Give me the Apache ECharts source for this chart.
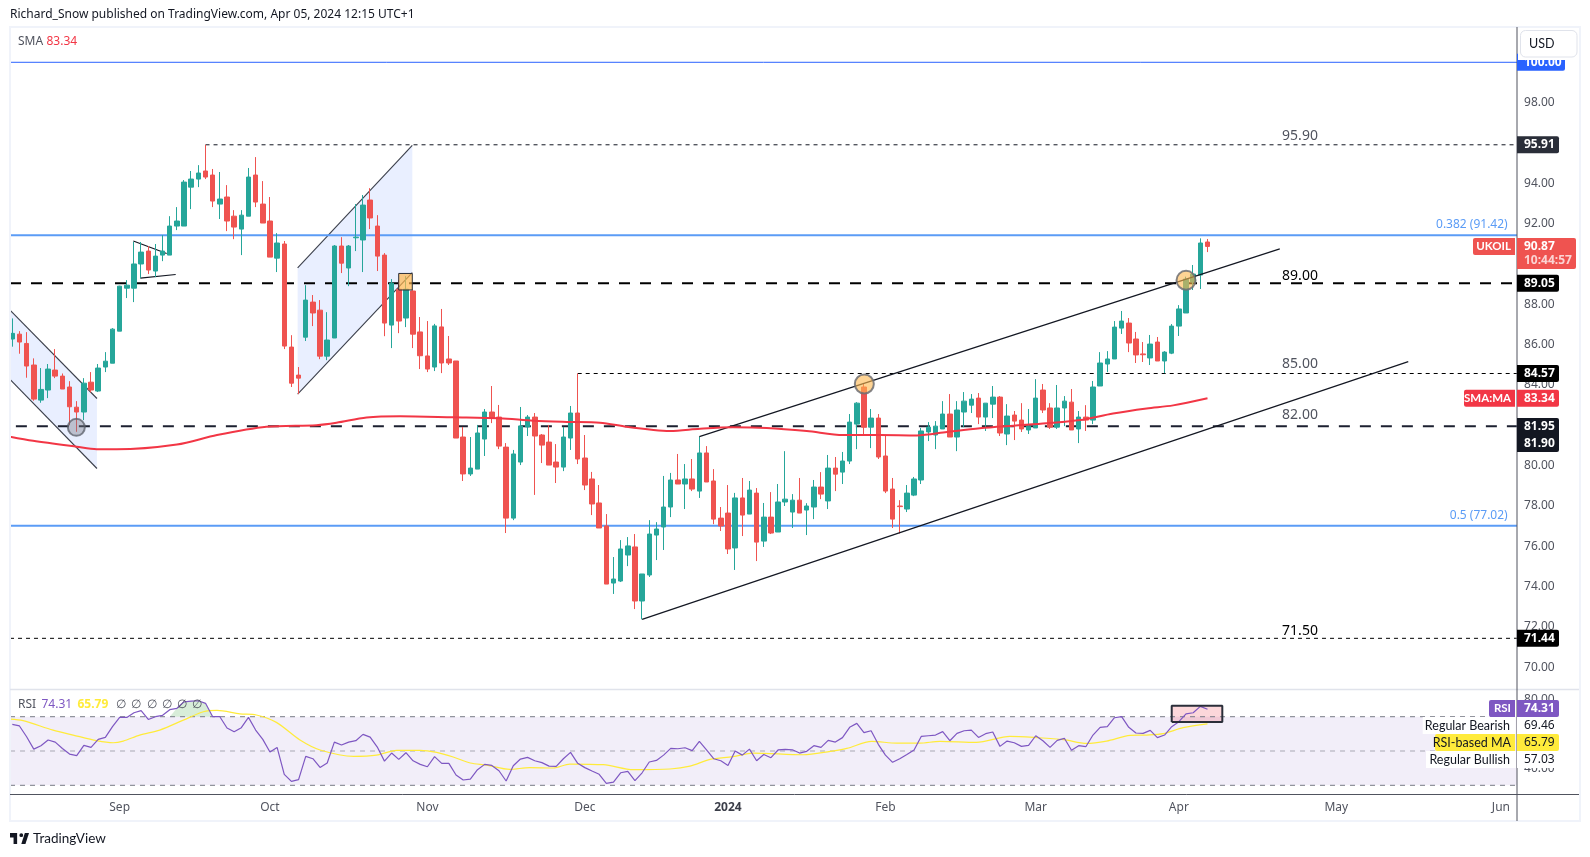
<!DOCTYPE html>
<html><head><meta charset="utf-8">
<style>html,body{margin:0;padding:0;background:#fff}#c{width:1590px;height:857px}</style>
<script src="https://cdn.jsdelivr.net/npm/echarts@6/dist/echarts.min.js"></script>
</head><body><div id="c"></div>
<script>
const opens=[86.28,86.52,86.06,84.99,83.25,83.75,84.74,84.44,83.90,82.90,
82.66,84.14,83.70,84.89,85.08,86.67,88.80,88.80,90.00,90.64,
89.65,90.44,90.44,91.88,91.88,93.81,94.21,94.61,94.41,92.97,
93.32,92.37,91.73,92.37,94.41,92.97,92.13,90.29,90.99,85.88,
84.49,86.37,88.11,87.71,85.43,86.33,90.89,89.80,91.30,91.19,
93.17,91.88,90.44,86.97,88.75,87.32,88.66,86.63,85.44,84.89,
86.88,85.29,85.19,81.42,79.59,79.83,81.32,82.66,82.41,80.92,
77.40,80.18,81.92,82.41,81.52,81.17,80.18,79.93,81.37,82.61,
80.38,79.34,78.15,77.01,74.18,74.28,75.57,75.97,73.29,74.58,
76.56,76.96,77.95,79.29,79.09,79.34,78.74,80.63,79.24,77.40,
77.65,75.92,78.40,77.60,78.64,76.26,77.45,76.71,78.20,77.70,
78.29,77.80,77.95,78.94,78.25,79.88,79.68,80.23,82.06,83.90,
81.91,82.36,80.48,78.84,78.00,77.85,78.54,79.29,81.67,81.52,
81.82,82.56,81.42,82.66,83.00,83.35,82.41,83.05,83.40,81.57,
82.51,82.26,81.77,81.87,83.75,82.86,81.91,82.86,83.15,81.82,
82.41,82.26,83.95,85.04,85.29,86.82,87.07,86.28,85.54,85.34,
86.13,85.19,85.58,86.92,87.57,89.11,89.45,91.09];
const closes=[86.56,86.13,84.94,83.30,83.78,84.79,84.44,83.80,82.92,82.66,
84.09,83.75,84.84,85.18,86.77,88.90,88.95,90.00,90.59,89.70,
90.39,90.64,91.88,92.13,94.06,94.21,94.51,94.31,93.12,93.22,
92.13,91.83,92.42,94.31,93.07,92.03,90.34,91.04,85.93,84.09,
84.34,88.21,87.57,85.43,86.23,90.89,90.04,90.89,91.33,92.92,
92.28,90.39,87.07,89.05,87.17,88.75,86.52,85.45,84.79,86.93,
85.09,85.09,81.37,79.59,79.88,81.62,82.66,82.36,80.97,77.40,
80.58,81.97,82.41,81.47,81.02,80.03,79.93,81.42,82.61,80.33,
79.04,78.10,76.91,74.13,74.38,75.87,76.02,73.29,74.63,76.61,
76.86,77.95,79.29,79.09,79.34,78.84,80.63,79.19,77.35,77.01,
75.87,78.40,77.55,78.79,76.21,77.45,76.66,78.20,78.34,78.29,
77.65,78.00,78.94,78.59,79.88,79.58,80.23,82.16,83.10,81.91,
82.36,80.43,78.74,77.35,77.97,78.64,79.34,81.72,81.91,81.96,
82.56,81.42,82.76,83.20,83.30,82.41,83.10,83.40,81.62,82.46,
82.21,81.82,81.96,83.35,82.76,81.91,82.86,83.20,81.77,82.41,
82.26,83.90,85.09,85.29,86.87,87.17,86.08,85.49,85.50,86.03,
85.19,85.63,86.92,87.77,89.25,89.50,91.04,90.87];
const lows=[85.90,85.55,84.36,83.22,83.12,83.35,84.34,83.80,82.01,81.68,
82.26,83.63,83.65,84.64,85.08,86.67,88.31,88.11,89.30,89.50,
89.35,90.14,90.44,91.68,91.88,92.72,93.81,94.21,92.82,92.23,
91.63,91.23,90.44,92.37,92.82,92.03,90.34,89.60,85.78,83.90,
83.55,86.18,86.92,85.28,85.23,86.33,89.55,88.90,90.64,89.60,
91.73,89.65,86.42,85.83,86.57,86.87,85.83,84.79,84.64,84.69,
84.59,84.99,81.37,79.24,79.49,79.83,80.48,82.11,80.82,76.66,
77.30,80.03,81.47,78.55,80.13,80.03,79.14,79.73,80.78,80.08,
78.79,77.55,76.91,74.13,73.64,74.23,75.02,72.89,72.38,74.48,
75.32,75.82,77.45,79.09,77.85,78.74,78.40,79.19,77.10,76.76,
75.62,74.83,76.51,77.60,75.27,75.97,76.61,76.71,78.00,76.91,
77.65,76.56,77.35,78.34,77.85,78.74,79.09,80.08,80.82,81.52,
80.87,80.33,78.64,76.91,76.64,77.70,78.49,79.09,81.22,80.82,
81.82,81.42,80.72,81.91,82.61,82.06,81.72,82.36,81.47,81.02,
81.27,81.67,81.57,81.87,82.61,81.82,81.82,81.96,81.77,81.12,
81.72,82.06,83.95,84.64,85.29,86.53,85.63,85.09,85.14,84.99,
85.19,84.59,85.53,86.43,87.57,88.71,88.76,90.59];
const highs=[87.30,86.67,86.62,85.32,84.84,85.04,85.78,84.57,84.19,83.20,
84.34,84.64,85.04,85.63,86.82,88.92,89.20,91.10,91.09,90.89,
90.99,91.43,92.37,92.82,94.16,94.61,94.90,95.91,94.71,94.56,
93.91,92.67,92.67,94.76,95.30,94.11,93.32,91.53,91.14,86.47,
84.89,88.95,88.46,88.21,87.61,90.94,91.33,90.94,92.97,93.42,
93.76,92.42,90.54,89.25,89.20,89.40,88.71,87.37,87.17,87.03,
87.77,86.43,85.19,81.92,81.42,82.02,82.81,83.95,83.01,81.12,
80.78,82.91,82.51,82.61,81.57,82.02,81.07,81.92,82.96,84.57,
81.52,79.69,79.04,77.60,75.47,76.31,76.46,76.61,74.63,77.30,
77.20,79.49,79.64,80.58,80.08,80.33,81.44,80.97,79.83,77.95,
79.04,78.65,79.39,79.24,78.89,78.15,78.69,79.09,80.72,78.59,
79.39,78.14,79.29,79.68,80.53,80.43,80.68,82.56,83.15,84.08,
82.81,82.56,81.52,79.39,78.29,79.04,79.44,81.87,82.16,82.21,
83.20,83.55,83.20,83.65,83.55,83.60,83.10,83.95,83.45,83.05,
82.71,83.10,82.81,84.29,84.05,83.10,84.00,83.45,83.80,82.71,
83.00,84.20,85.63,85.68,87.17,87.67,87.32,86.63,86.13,86.48,
86.38,85.68,87.02,87.96,89.37,89.95,91.27,91.24];
const rsi=[65.5,64.6,58.3,51.1,53.1,56.4,55.2,51.5,48.2,47.3,
53.3,52.1,56.8,57.9,64.2,69.6,69.6,72.3,73.5,68.4,
70.0,70.8,74.1,74.9,78.7,79.1,79.3,77.8,70.0,70.0,
63.4,61.2,63.6,69.6,62.2,56.8,49.4,52.1,36.4,32.3,
33.3,46.9,45.5,40.4,43.0,55.2,53.5,55.2,56.0,59.7,
58.1,52.3,44.1,48.8,45.1,49.0,44.3,42.2,40.8,46.7,
42.8,42.8,36.0,33.1,33.6,39.1,42.2,41.6,38.5,32.5,
41.4,45.3,46.3,44.3,43.2,41.2,41.0,45.5,49.2,42.8,
40.3,38.3,36.4,31.1,31.9,37.3,38.1,32.7,37.3,43.6,
44.5,47.6,51.5,51.3,51.9,50.2,55.6,50.6,45.5,44.3,
41.6,50.0,47.6,51.1,44.3,48.0,46.1,50.6,50.9,50.7,
48.8,49.8,53.1,52.1,56.2,55.2,57.8,63.8,66.1,60.7,
61.8,53.9,47.6,43.4,45.5,48.0,50.6,58.5,58.9,59.3,
61.3,56.0,60.3,61.8,62.2,57.9,60.1,61.1,52.7,55.8,
54.8,52.7,53.3,58.9,56.0,52.1,56.2,57.4,50.4,53.1,
52.5,59.3,63.8,64.2,69.4,70.0,63.8,60.5,60.3,62.0,
57.8,59.3,64.2,67.1,71.7,72.3,76.0,74.31];
const smaX=[-0.3,2.9,9,11.8,14.6,23,28.6,35.5,42.5,45.3,49.5,54.2,61.6,68.1,72.8,77.5,82.1,85.8,89.6,91.9,96.1,100.7,105.4,111,116.1,121.2,126.4,130.6,135.2,139.9,144.5,149.2,153.8,158.5,162.2,167];
const smaV=[81.43,81.23,80.94,80.82,80.81,81.05,81.52,81.93,82.01,82.13,82.39,82.45,82.40,82.35,82.23,82.17,82.13,81.93,81.77,81.72,81.83,81.90,81.87,81.72,81.52,81.52,81.50,81.67,81.85,81.98,82.10,82.26,82.59,82.84,82.99,83.34];
const rsiMaX=[-0.3,1.5,5.7,8.5,11.8,14.1,15.5,17.8,20.6,23.9,26.7,28.6,31.8,34.1,36.9,40.2,43,47.7,50.9,53.7,57,59.3,61.6,64,66.3,69.5,72.3,75.6,77.9,82.6,86.8,91.9,94.7,97.5,100.7,103.5,110.5,114.3,116.6,120.1,123.6,126.8,129.6,134.7,139.4,143.1,146.9,150.1,152.9,156.2,158.5,160.8,163.6,167];
const rsiMaV=[68.6,67.7,62.2,59.3,56.0,54.8,55.8,59.3,62.2,68.0,72.9,73.7,71.7,71.0,66.7,56.4,50.6,46.9,47.6,50.4,50.4,49.2,46.5,43.0,41.8,39.3,40.3,40.1,42.4,42.0,39.1,39.5,41.2,45.1,46.7,48.8,47.8,49.8,51.5,55.6,54.6,54.6,55.6,55.0,58.5,57.8,56.6,54.4,55.8,59.1,59.3,60.1,63.6,65.79];
const tickIndex=[15,36,58,80,100,122,143,163,185,208];
const tickNames=['Sep','Oct','Nov','Dec','2024','Feb','Mar','Apr','May','Jun'];
const slotCount=211;
const priceLevels={top:100,fib382:91.42,res:89.05,fib5:77.02,sup:81.95,high:95.91,mid:84.57,low:71.44};

const categories=Array.from({length:slotCount},(_,i)=>{const k=tickIndex.indexOf(i);return k>=0?tickNames[k]:'';});
const candles=opens.map((o,i)=>[o,closes[i],lows[i],highs[i]]);
const XL=-0.32, XR=210.24; // overlay units at pane edges

const chart=echarts.init(document.getElementById('c'),null,{width:1590,height:857});
const FONT='"Noto Sans",sans-serif';
const TEXTFONT='Lato,"Noto Sans",sans-serif';

function seg(pts,color,width,dash,z,xi,yi){
  return {type:'line',xAxisIndex:xi===undefined?1:xi,yAxisIndex:yi||0,data:pts,showSymbol:false,symbol:'none',silent:true,z:z||2,
    lineStyle:{color,width,type:dash||'solid'},animation:false};
}
function poly(pts,fill,z,xi,yi){
  return {type:'custom',coordinateSystem:'cartesian2d',xAxisIndex:xi===undefined?1:xi,yAxisIndex:yi||0,silent:true,z:z||1,
    data:[pts[0]],
    renderItem:(p,api)=>({type:'polygon',shape:{points:pts.map(q=>api.coord(q))},style:{fill}})};
}
const THIN=[4,4],THICK=[11,10];
const series=[
  poly([[XL,87.71],[11.83,83.33],[11.83,79.86],[XL,84.28]],'rgba(41,98,255,0.10)',1),
  poly([[39.87,89.81],[55.89,95.88],[55.89,89.57],[39.87,83.55]],'rgba(41,98,255,0.10)',1),
  seg([[XL,87.71],[11.83,83.33]],'#3a3e4a',1.1),
  seg([[XL,84.28],[11.83,79.86]],'#3a3e4a',1.1),
  seg([[39.87,89.81],[55.89,95.88]],'#3a3e4a',1.1),
  seg([[39.87,83.55],[55.89,89.57]],'#3a3e4a',1.1),
  seg([[16.91,91.14],[21.57,90.52]],'#131722',1.1),
  seg([[17.89,89.30],[22.83,89.48]],'#131722',1.1),
  seg([[XL,100],[XR,100]],'#2962ff',1),
  seg([[27,95.91],[XR,95.91]],'#131722',1,THIN),
  seg([[XL,91.42],[XR,91.42]],'#5b9cf6',2),
  seg([[XL,89.05],[XR,89.05]],'#000000',2,THICK),
  seg([[79,84.57],[XR,84.57]],'#000000',1,THIN),
  seg([[0.5,81.95],[XR,81.95]],'#1c2030',2,THICK),
  seg([[XL,77.02],[XR,77.02]],'#5b9cf6',2),
  seg([[XL,71.44],[XR,71.44]],'#000000',1,THIN),
  seg([[96,81.44],[177.1,90.75]],'#131722',1.2,'solid',4),
  seg([[88,72.38],[195.05,85.16]],'#131722',1.2,'solid',4),
  {type:'candlestick',xAxisIndex:0,yAxisIndex:0,data:candles,barWidth:5,z:3,silent:true,
    itemStyle:{color:'#26a69a',color0:'#ef5350',borderColor:'#26a69a',borderColor0:'#ef5350',borderWidth:1}},
  {type:'line',xAxisIndex:1,yAxisIndex:0,data:smaX.map((x,i)=>[x,smaV[i]]),showSymbol:false,symbol:'none',smooth:0.3,silent:true,z:4,
    lineStyle:{color:'#f23645',width:2}},
  {type:'scatter',xAxisIndex:1,yAxisIndex:0,symbolSize:17,silent:true,z:5,data:[[8.95,81.90]],
    itemStyle:{color:'rgba(120,123,134,0.4)',borderColor:'rgba(90,93,104,0.75)',borderWidth:2,opacity:1}},
  {type:'scatter',xAxisIndex:1,yAxisIndex:0,symbolSize:19,silent:true,z:5,data:[[119.05,84.05],[164,89.19]],
    itemStyle:{color:'rgba(255,183,77,0.6)',borderColor:'rgba(110,110,115,0.85)',borderWidth:2,opacity:1}},
  poly([[53.99,89.53],[55.89,89.53],[55.89,88.71],[53.99,88.71]],'rgba(255,183,77,0.7)',5),
  seg([[53.99,88.71],[53.99,89.53],[55.89,89.53],[55.89,88.71],[53.99,88.71]],'#2a2e39',1,'solid',6),
  // RSI pane
  poly([[XL,70],[XR,70],[XR,30],[XL,30]],'rgba(126,87,194,0.10)',1,3,1),
  poly([[22,70],[23,rsi[23]],[24,rsi[24]],[25,rsi[25]],[26,rsi[26]],[27,rsi[27]],[28,70]],'rgba(76,175,80,0.22)',2,3,1),
  poly([[162,76.4],[169.07,76.4],[169.07,66.9],[162,66.9]],'rgba(242,54,69,0.20)',2,3,1),
  seg([[162,66.9],[162,76.4],[169.07,76.4],[169.07,66.9],[162,66.9]],'#2a2e39',2,'solid',6,3,1),
  seg([[XL,70],[XR,70]],'#787b86',1,[5,5],2,3,1),
  seg([[XL,50],[XR,50]],'rgba(120,123,134,0.6)',1,[5,5],2,3,1),
  seg([[XL,30],[XR,30]],'#787b86',1,[5,5],2,3,1),
  {type:'line',xAxisIndex:3,yAxisIndex:1,data:rsiMaX.map((x,i)=>[x,rsiMaV[i]]),showSymbol:false,symbol:'none',smooth:0.3,silent:true,z:3,
    lineStyle:{color:'#ffeb3b',width:1.2}},
  {type:'line',xAxisIndex:2,yAxisIndex:1,data:rsi,showSymbol:false,symbol:'none',silent:true,z:4,
    lineStyle:{color:'#7e57c2',width:1.2}},
];

const overlayX=(grid)=>({type:'value',gridIndex:grid,min:-0.5,max:slotCount-0.5,show:false,scale:true,splitLine:{show:false}});
chart.setOption({
  animation:false,
  backgroundColor:'#ffffff',
  textStyle:{fontFamily:FONT},
  grid:[
    {left:8.72,width:1510.1,top:21.95,height:685.75,containLabel:false},
    {left:8.72,width:1510.1,top:665.25,height:137.2,containLabel:false},
  ],
  xAxis:[
    {type:'category',gridIndex:0,data:categories,show:false},
    overlayX(0),
    {type:'category',gridIndex:1,data:categories,axisLine:{show:false},axisTick:{show:false},splitLine:{show:false},
      axisLabel:{interval:0,margin:-1,color:'#50535e',fontSize:12,fontFamily:FONT,
        formatter:v=>v==='2024'?'{b|2024}':v,rich:{b:{fontWeight:'bold',color:'#3a3d48',fontSize:12,fontFamily:FONT}}}},
    overlayX(1),
  ],
  yAxis:[
    {type:'value',gridIndex:0,position:'right',min:68,max:102,interval:2,axisLine:{show:false},axisTick:{show:false},splitLine:{show:false},
      axisLabel:{margin:5.2,color:'#50535e',fontSize:12,fontFamily:FONT,formatter:v=>(v<=68||v>=102)?'':v.toFixed(2)}},
    {type:'value',gridIndex:1,position:'right',min:20,max:100,interval:20,axisLine:{show:false},axisTick:{show:false},splitLine:{show:false},
      axisLabel:{margin:5.2,color:'#50535e',fontSize:12,fontFamily:FONT,formatter:v=>(v>=40&&v<=80)?v.toFixed(2):''}},
  ],
  series
});

// ---- decoration drawn on top of panes, tags placed through the axes
const py=v=>chart.convertToPixel({yAxisIndex:0},v);
const g=[];
function rect(x,y,w,h,fill,r,z,stroke,lw){g.push({type:'rect',z:z||50,silent:true,shape:{x,y,width:w,height:h,r:r||0},style:{fill,stroke:stroke||null,lineWidth:lw||0}});}
function txt(s,x,y,fill,o){o=o||{};g.push({type:'text',z:o.z||52,silent:true,style:{text:s,x,y,fill,font:(o.weight||'normal')+' '+(o.size||12)+'px '+(o.font||FONT),align:o.align||'left',verticalAlign:'middle'}});}
function line(x1,y1,x2,y2,stroke,lw,z){g.push({type:'line',z:z||49,silent:true,shape:{x1,y1,x2,y2},style:{stroke,lineWidth:lw}});}
function vtag(val,y,bg,fg,bold,w){rect(1517,y-8.5,w||42,17,bg,[0,2,2,0]);txt(val,1524,y,fg||'#fff',{weight:bold===false?'normal':'bold'});}
function ltag(label,right,y,left,bg,fg,bold){rect(left,y-8.5,right-left,17,bg,[2,0,0,2]);txt(label,right-4,y,fg||'#fff',{align:'right',size:bold===false?12.5:11.5,font:TEXTFONT,weight:bold===false?'normal':'bold'});}

// frame & dividers
rect(0,0,1590,26,'#fff',0,40);
rect(0,821,1590,36,'#fff',0,40);
rect(0,0,9,857,'#fff',0,40);
rect(1581,0,9,857,'#fff',0,40);
const frame='#f0f3fa';
rect(9,26,2,796,frame,0,41);
rect(9,26,1572,2,frame,0,41);
rect(1579,26,2,796,frame,0,41);
rect(9,820,1572,2,frame,0,41);
line(10,689.5,1579,689.5,'#e0e3eb',1.5);
line(10,794.5,1579,794.5,'#50535e',1,49);
line(1517,27,1517,821,'#50535e',1,49);

// 100 tag partly covered by currency box
vtag('100.00',py(priceLevels.top),'#2962ff','#fff',true,48);
rect(1518,28,61,32,'#fff',0,53);
rect(1520.5,30.5,56.5,26.5,'#fff',5,54,'#e0e3eb',1);
txt('USD',1529,44,'#131722',{z:55,font:TEXTFONT,size:12.5});

vtag('95.91',py(priceLevels.high),'#2a2e39');
rect(1517,238,59,31,'#ef5350',[0,2,2,0]);
txt('90.87',1524,246.5,'#fff',{weight:'bold'});
txt('10:44:57',1524,260.5,'rgba(255,255,255,0.75)',{weight:'bold'});
ltag('UKOIL',1515,246.5,1473,'#ef5350');
vtag('89.05',py(priceLevels.res),'#000');
vtag('84.57',py(priceLevels.mid),'#000');
vtag('83.34',398.3,'#f23645');ltag('SMA:MA',1515,398.3,1464,'#f23645');
rect(1517,418,42,34,'#131722',[0,2,2,0]);
txt('81.95',1524,426.7,'#fff',{weight:'bold'});txt('81.90',1524,443.7,'#fff',{weight:'bold'});
vtag('71.44',py(priceLevels.low),'#000');

// RSI tags
vtag('74.31',708.5,'#7e57c2');ltag('RSI',1515,708.5,1489,'#7e57c2');
rect(1517,717,42,17,'#fff',0,50);txt('69.46',1524,725.5,'#131722');
rect(1422.7,717,93,17,'#fff',0,50);txt('Regular Bearish',1510,725.5,'#131722',{align:'right',font:TEXTFONT,size:12.5});
vtag('65.79',742.5,'#ffeb3b','#131722',false);ltag('RSI-based MA',1515,742.5,1435,'#ffeb3b','#131722',false);
rect(1517,751,42,17,'#fff',0,50);txt('57.03',1524,759.5,'#131722');
rect(1426,751,90,17,'#fff',0,50);txt('Regular Bullish',1510,759.5,'#131722',{align:'right',font:TEXTFONT,size:12.5});

// header
txt('Richard_Snow published on TradingView.com, Apr 05, 2024 12:15 UTC+1',10,15,'#131722',{size:12});
txt('SMA',18,41.5,'#50535e',{size:12});
txt('83.34',46.5,41.5,'#f23645',{size:12});
// RSI legend
txt('RSI',18,705,'#50535e');
txt('74.31',41.5,705,'#7e57c2');
txt('65.79',77.5,705,'#ffeb3b',{weight:'bold'});
[115.5,130.5,146.5,161.5,176.5,191.5].forEach(x=>txt('∅',x,705,'#50535e'));

// level annotations
[['95.90',136,'#50535e'],['89.00',276,'#000'],['85.00',364,'#50535e'],['82.00',415,'#50535e'],['71.50',631,'#000']].forEach(a=>txt(a[0],1300,a[1],a[2],{size:14,align:'center'}));
txt('0.382 (91.42)',1507.7,225,'#5b9cf6',{align:'right'});
txt('0.5 (77.02)',1507.7,515.7,'#5b9cf6',{align:'right'});

// logo
const LX=X=>10+(X-2)*0.594, LY=Y=>833+(Y-6)*0.733;
const logoFill='#131722';
g.push({type:'polygon',z:52,silent:true,shape:{points:[[14,6],[2,6],[2,12],[8,12],[8,21],[14,21]].map(p=>[LX(p[0]),LY(p[1])])},style:{fill:logoFill}});
g.push({type:'polygon',z:52,silent:true,shape:{points:[[28,21],[21,21],[27,6],[34,6]].map(p=>[LX(p[0]),LY(p[1])])},style:{fill:logoFill}});
g.push({type:'circle',z:52,silent:true,shape:{cx:LX(21),cy:LY(9),r:1.9},style:{fill:logoFill}});
txt('TradingView',33,839,'#131722',{size:13.5,font:TEXTFONT});

chart.setOption({graphic:{elements:g}});
</script></body></html>
